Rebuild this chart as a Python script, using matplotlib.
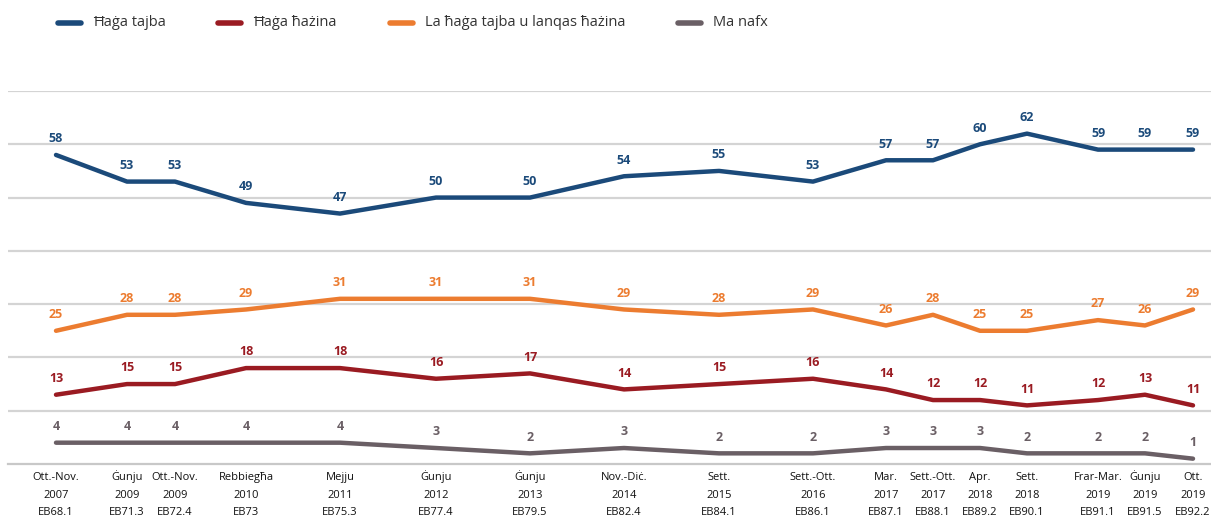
import matplotlib.pyplot as plt
import matplotlib.transforms as mtransforms
from matplotlib.lines import Line2D

plt.rcParams['font.family'] = ['Open Sans', 'DejaVu Sans']

# horizontal position of each survey (uneven spacing)
x_pos = [56, 127, 175, 246, 340, 436, 530, 624, 719, 813, 886, 933, 980, 1027, 1098, 1145, 1193]
periods = ['Ott.-Nov.', 'Ġunju', 'Ott.-Nov.', 'Rebbiegħa', 'Mejju', 'Ġunju', 'Ġunju', 'Nov.-Diċ.',
           'Sett.', 'Sett.-Ott.', 'Mar.', 'Sett.-Ott.', 'Apr.', 'Sett.', 'Frar-Mar.', 'Ġunju', 'Ott.']
years = ['2007', '2009', '2009', '2010', '2011', '2012', '2013', '2014', '2015', '2016',
         '2017', '2017', '2018', '2018', '2019', '2019', '2019']
waves = ['EB68.1', 'EB71.3', 'EB72.4', 'EB73', 'EB75.3', 'EB77.4', 'EB79.5', 'EB82.4', 'EB84.1',
         'EB86.1', 'EB87.1', 'EB88.1', 'EB89.2', 'EB90.1', 'EB91.1', 'EB91.5', 'EB92.2']

good = [58, 53, 53, 49, 47, 50, 50, 54, 55, 53, 57, 57, 60, 62, 59, 59, 59]
bad = [13, 15, 15, 18, 18, 16, 17, 14, 15, 16, 14, 12, 12, 11, 12, 13, 11]
neither = [25, 28, 28, 29, 31, 31, 31, 29, 28, 29, 26, 28, 25, 25, 27, 26, 29]
dont_know = [4, 4, 4, 4, 4, 3, 2, 3, 2, 2, 3, 3, 3, 2, 2, 2, 1]

series = [
    ('Ħaġa tajba', good, '#1b4a7a'),
    ('Ħaġa ħażina', bad, '#9a1b22'),
    ('La ħaġa tajba u lanqas ħażina', neither, '#ec7c30'),
    ('Ma nafx', dont_know, '#6a5f65'),
]

fig = plt.figure(figsize=(12.11, 5.19), dpi=100)
W, H = 1211, 519
ax = fig.add_axes([8 / W, (H - 464) / H, 1 - 8 / W, (464 - 91) / H])
ax.set_xlim(8, 1211)
ax.set_ylim(0, 70)

for y in range(10, 71, 10):
    ax.axhline(y, color='#d4d4d4', lw=1.6, zorder=0)

for name, vals, col in series:
    ax.plot(x_pos, vals, color=col, lw=3.2, solid_capstyle='round', solid_joinstyle='round', zorder=3)
    for x, v in zip(x_pos, vals):
        ax.annotate(str(v), (x, v), xytext=(0, 7), textcoords='offset points',
                    ha='center', va='bottom', fontsize=9, fontweight='bold', color=col)

for s in ['top', 'right', 'left']:
    ax.spines[s].set_visible(False)
ax.spines['bottom'].set_color('#c8c8c8')
ax.spines['bottom'].set_linewidth(1.6)
ax.set_yticks([])
ax.set_xticks([])

# three rows of x labels, each on its own baseline
trans = mtransforms.blended_transform_factory(ax.transData, fig.transFigure)
for row, base in zip([periods, years, waves], [480, 498, 515]):
    for x, s in zip(x_pos, row):
        ax.text(x, 1 - base / H, s, transform=trans, ha='center', va='baseline',
                fontsize=8, color='#111111')

# legend drawn by hand to match the uneven spacing
leg_x = [58, 218, 390, 678]
for (name, vals, col), lx in zip(series, leg_x):
    fig.add_artist(Line2D([lx / W, (lx + 23) / W], [1 - 23 / H, 1 - 23 / H], color=col,
                          lw=4, solid_capstyle='round'))
    fig.text((lx + 35) / W, 1 - 23 / H, name, fontsize=10.5, va='center', ha='left', color='#333333')

fig.savefig('out.png', dpi=100)
